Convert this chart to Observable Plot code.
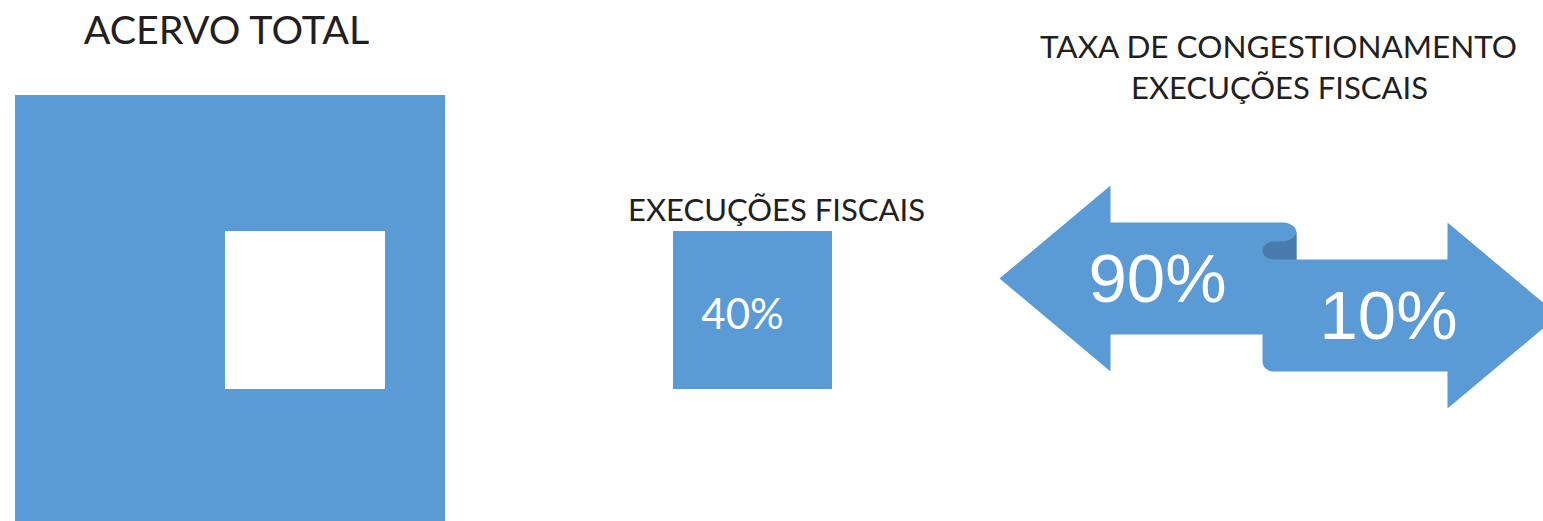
<!DOCTYPE html>
<html><head><meta charset="utf-8">
<script src="https://cdn.jsdelivr.net/npm/d3@7"></script>
<script src="https://cdn.jsdelivr.net/npm/@observablehq/plot@0.6"></script>
<style>html,body{margin:0;padding:0;background:#fff;overflow:hidden}</style>
</head><body><div id="chart"></div>
<script>
// ---- data ----
const panelTitles = ["ACERVO TOTAL", "EXECUÇÕES FISCAIS"];
const congestionTitle = ["TAXA DE CONGESTIONAMENTO", "EXECUÇÕES FISCAIS"];
const fiscalShare = [40];           // % of total stock that are fiscal executions
const congestionRates = [90, 10];   // congestion rate vs. the rest

// ---- layout ----
const W = 1543, H = 521;
const BLUE = "#5B9BD5", DARK = "#497CAD", INK = "#231F20";

function arc(cx, cy, rx, ry, a0, a1, n = 10) {
  const p = [];
  for (let i = 0; i <= n; i++) {
    const a = (a0 + (a1 - a0) * i / n) * Math.PI / 180;
    p.push({x: cx + rx * Math.cos(a), y: cy + ry * Math.sin(a)});
  }
  return p;
}
const arrow = [
  {x: 999, y: 278}, {x: 1110, y: 185}, {x: 1110, y: 222},
  ...arc(1282, 232, 14, 10, -90, 0),
  {x: 1296, y: 259}, {x: 1447, y: 259}, {x: 1447, y: 222},
  {x: 1558, y: 315}, {x: 1447, y: 408}, {x: 1447, y: 371},
  ...arc(1273, 361, 11, 10, 90, 180),
  {x: 1262, y: 334}, {x: 1110, y: 334}, {x: 1110, y: 371}, {x: 999, y: 278}
];
const curl = [
  {x: 1296, y: 231},
  ...arc(1280, 231, 16, 10, 0, 90, 6),
  ...arc(1273, 250, 11, 9, -90, -270, 12),
  {x: 1296, y: 259}, {x: 1296, y: 231}
];

const squares = [
  {x1: 15, x2: 445, y1: 95, y2: 530, fill: BLUE},
  {x1: 225, x2: 385, y1: 231, y2: 389, fill: "#fff"},
  {x1: 673, x2: 832, y1: 231, y2: 389, fill: BLUE}
];

const texts = [
  {x: 226, y: 43, t: panelTitles[0], s: 39.5, f: INK, font: "Lato"},
  {x: 776, y: 220, t: panelTitles[1], s: 31, f: INK, font: "Lato"},
  {x: 1278, y: 57, t: congestionTitle[0], s: 31.5, f: INK, font: "Lato"},
  {x: 1279, y: 98, t: congestionTitle[1], s: 31, f: INK, font: "Lato"},
  {x: 742, y: 328, t: fiscalShare[0] + "%", s: 42, f: "#fff", font: "Lato"},
  {x: 1157, y: 301, t: congestionRates[0] + "%", s: 69, f: "#fff", font: "Liberation Sans"},
  {x: 1388, y: 338, t: congestionRates[1] + "%", s: 69, f: "#fff", font: "Liberation Sans"}
];

const chart = Plot.plot({
  width: W, height: H,
  margin: 0,
  x: {domain: [0, W], range: [0, W], axis: null},
  y: {domain: [0, H], range: [0, H], axis: null},
  style: {background: "#fff"},
  marks: [
    Plot.rect(squares, {x1: "x1", x2: "x2", y1: "y1", y2: "y2", fill: d => d.fill}),
    Plot.line(arrow, {x: "x", y: "y", fill: BLUE, stroke: "none", curve: "linear"}),
    Plot.line(curl, {x: "x", y: "y", fill: DARK, stroke: "none", curve: "linear"}),
    ...texts.map(d => Plot.text([d], {
      x: "x", y: "y", text: "t", fill: "f", fontSize: d.s, fontFamily: d.font,
      textAnchor: "middle", lineAnchor: "bottom"
    }))
  ]
});
document.getElementById("chart").append(chart);
</script>
</body></html>
